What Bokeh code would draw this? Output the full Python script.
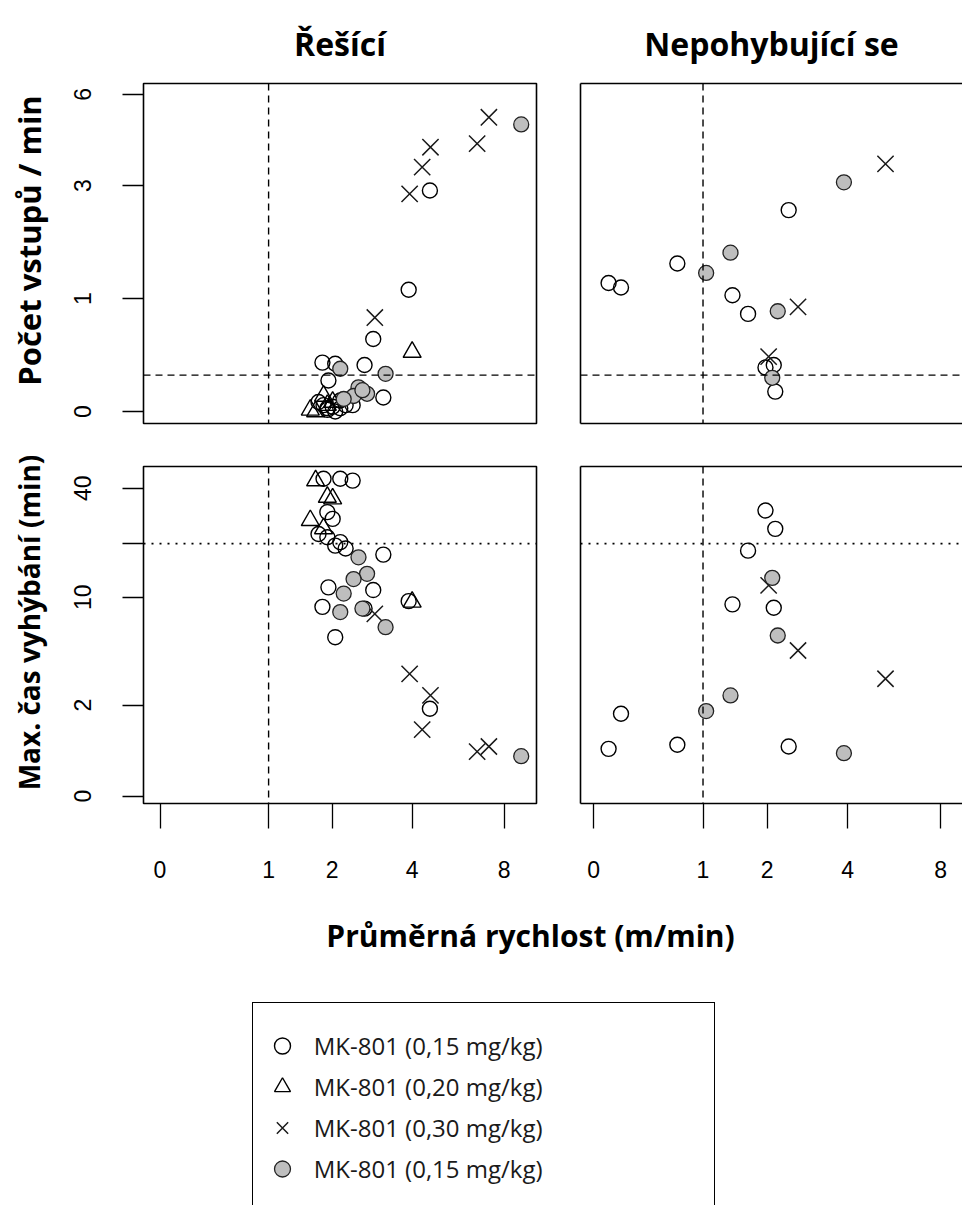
import math
import numpy as np
from bokeh.plotting import figure
from bokeh.layouts import column, row
from bokeh.models import (Span, Legend, LegendItem, FixedTicker, LinearAxis,
                          Range1d, Label, CustomJSTickFormatter)
from bokeh.embed import file_html
from bokeh.resources import INLINE

# ---------------- texts ----------------
col_titles = ["Řešící", "Nepohybující se"]
x_title = "Průměrná rychlost (m/min)"
y_title_top = "Počet vstupů / min"
y_title_bottom = "Max. čas vyhýbání (min)"
legend_labels = ["MK-801 (0,15 mg/kg)", "MK-801 (0,20 mg/kg)",
                 "MK-801 (0,30 mg/kg)", "MK-801 (0,15 mg/kg)"]

# ---------------- ticks / thresholds ----------------
speed_ticks = [0, 1, 2, 4, 8]
entries_ticks = [0, 1, 3, 6]
maxtime_ticks = [0, 2, 10, 20, 40]
maxtime_hidden_labels = [20]
speed_threshold = 1
entries_threshold = 0.25
maxtime_threshold = 20

# ---------------- data: Řešící ----------------
sol_open_speed = [4.60, 3.89, 2.90, 3.16, 2.69, 1.82, 2.06, 1.93, 1.84, 2.16, 2.42, 1.91, 2.01, 1.75, 1.91, 2.16, 2.27, 2.06]
sol_open_entries = [2.88, 1.11, 0.56, 0.09, 0.33, 0.35, 0.34, 0.21, 0.04, 0.02, 0.04, 0.01, 0.03, 0.06, 0.02, 0.07, 0.04, 0.00]
sol_open_maxtime = [1.87, 9.5, 11.0, 17.4, 8.6, 8.8, 5.8, 11.4, 44.9, 44.9, 43.9, 29.7, 27.3, 22.6, 21.7, 20.4, 18.8, 19.5]

sol_tri_speed = [4.00, 1.70, 1.91, 2.01, 1.61, 1.84]
sol_tri_entries = [0.44, 0.00, 0.04, 0.06, 0.01, 0.10]
sol_tri_maxtime = [9.4, 43.9, 35.8, 35.1, 26.8, 24.2]

sol_x_speed = [7.16, 6.57, 4.62, 4.33, 3.92, 2.94]
sol_x_entries = [5.08, 4.17, 4.06, 3.48, 2.80, 0.78]
sol_x_maxtime = [0.82, 0.71, 2.37, 1.23, 3.37, 8.0]

sol_gray_speed = [9.03, 3.22, 2.16, 2.55, 2.75, 2.44, 2.23, 2.64]
sol_gray_entries = [4.82, 0.26, 0.30, 0.16, 0.115, 0.10, 0.08, 0.14]
sol_gray_maxtime = [0.62, 6.67, 8.2, 16.8, 13.6, 12.7, 10.5, 8.6]

# ---------------- data: Nepohybující se ----------------
nm_open_speed = [2.44, 0.70, 0.10, 0.19, 1.41, 1.66, 1.97, 2.13, 2.16]
nm_open_entries = [2.44, 1.48, 1.20, 1.14, 1.04, 0.82, 0.31, 0.33, 0.13]
nm_open_maxtime = [0.82, 0.86, 0.77, 1.70, 9.1, 18.3, 30.3, 8.7, 24.1]

nm_tri_speed = []
nm_tri_entries = []
nm_tri_maxtime = []

nm_x_speed = [5.35, 2.65, 2.03]
nm_x_entries = [3.57, 0.90, 0.40]
nm_x_maxtime = [3.12, 4.79, 11.7]

nm_gray_speed = [3.88, 1.38, 1.04, 2.21, 2.10]
nm_gray_entries = [3.08, 1.65, 1.34, 0.85, 0.23]
nm_gray_maxtime = [0.68, 2.37, 1.79, 5.94, 12.9]

# ---------------- helpers ----------------
TICK_FONT = "Liberation Sans"
BOLD_FONT = "Open Sans"
GRAY = "#bebebe"


def tr(v):
    """log2(v + 1) transform used by the axes."""
    return [float(np.log2(float(x) + 1.0)) for x in v]


def make_fmt(hidden):
    return CustomJSTickFormatter(args=dict(hidden=hidden), code="""
        const v = Math.round(Math.pow(2, tick) - 1);
        return hidden.indexOf(v) >= 0 ? "" : String(v);
    """)


STYLES = {
    "open": dict(marker="circle", size=15, fill_color=None, line_color="black", line_width=1.4),
    "tri": dict(marker="triangle", size=18, fill_color=None, line_color="black", line_width=1.4),
    "x": dict(marker="x", size=23, line_color="#1a1a1a", line_width=1.5),
    "gray": dict(marker="circle", size=15, fill_color=GRAY, line_color="#222222", line_width=1.3),
}


def blank_fig(w, h):
    f = figure(width=w, height=h, x_range=Range1d(0, 1), y_range=Range1d(0, 1),
               output_backend="svg", toolbar_location=None,
               x_axis_location=None, y_axis_location=None)
    f.min_border_left = f.min_border_right = f.min_border_top = f.min_border_bottom = 0
    f.grid.visible = False
    f.outline_line_color = None
    return f


def make_fig(w, h, borders, xr, yr):
    p = figure(width=w, height=h, x_range=Range1d(*xr), y_range=Range1d(*yr),
               output_backend="svg", toolbar_location=None,
               x_axis_location=None, y_axis_location=None)
    p.min_border_left, p.min_border_right, p.min_border_top, p.min_border_bottom = borders
    p.grid.visible = False
    p.outline_line_color = None
    p.background_fill_color = "white"
    p.border_fill_color = "white"
    return p


def border_axis(p, side):
    ax = LinearAxis(ticker=FixedTicker(ticks=[]), axis_line_color="black",
                    axis_line_width=1.6, major_tick_line_color=None,
                    minor_tick_line_color=None, major_tick_out=0, major_tick_in=0,
                    major_label_text_font_size="0px", major_label_standoff=0)
    p.add_layout(ax, side)
    return ax


def style_ticks(ax, ticks, hidden, tick_len):
    ax.ticker = FixedTicker(ticks=tr(ticks))
    ax.formatter = make_fmt(hidden)
    ax.major_tick_out = tick_len
    ax.major_tick_in = 0
    ax.major_tick_line_width = 1.3
    ax.major_tick_line_color = "black"
    ax.minor_tick_line_color = None
    ax.major_label_text_font = TICK_FONT
    ax.major_label_text_font_size = "23px"
    ax.major_label_text_color = "black"


XL = (-0.152, 3.467)
XR = (-0.119, 3.370)
YT = (-0.106, 2.903)
YB = (-0.127, 5.734)

groups = ["open", "tri", "x", "gray"]
data = {
    0: {"open": (sol_open_speed, sol_open_entries, sol_open_maxtime),
        "tri": (sol_tri_speed, sol_tri_entries, sol_tri_maxtime),
        "x": (sol_x_speed, sol_x_entries, sol_x_maxtime),
        "gray": (sol_gray_speed, sol_gray_entries, sol_gray_maxtime)},
    1: {"open": (nm_open_speed, nm_open_entries, nm_open_maxtime),
        "tri": (nm_tri_speed, nm_tri_entries, nm_tri_maxtime),
        "x": (nm_x_speed, nm_x_entries, nm_x_maxtime),
        "gray": (nm_gray_speed, nm_gray_entries, nm_gray_maxtime)},
}

STRIP_W = 60
figs = {}
for col in (0, 1):
    for rown in (0, 1):
        if col == 0:
            w, xr = 560 - STRIP_W, XL
            lb, rb = 143 - STRIP_W, 24
        else:
            w, xr = 402, XR
            lb, rb = 20, 0
        if rown == 0:
            h, yr, tb, bb = 445, YT, 83, 22
        else:
            h, yr, tb, bb = 455, YB, 21, 97
        p = make_fig(w, h, (lb, rb, tb, bb), xr, yr)

        if col == 0:
            p.outline_line_color = "black"
            p.outline_line_width = 1.6
            yax = LinearAxis(axis_line_color=None)
            style_ticks(yax, entries_ticks if rown == 0 else maxtime_ticks,
                        [] if rown == 0 else maxtime_hidden_labels, 21)
            yax.major_label_orientation = "vertical"
            yax.major_label_standoff = 31
            p.add_layout(yax, "left")
            if rown == 1:
                xax = LinearAxis(axis_line_color=None)
                style_ticks(xax, speed_ticks, [], 25)
                xax.major_label_standoff = 32
                p.add_layout(xax, "below")
        else:
            border_axis(p, "left")
            border_axis(p, "above")
            if rown == 1:
                xax = LinearAxis(axis_line_color="black", axis_line_width=1.6)
                style_ticks(xax, speed_ticks, [], 25)
                xax.major_label_standoff = 32
                p.add_layout(xax, "below")
            else:
                border_axis(p, "below")

        if rown == 0:
            p.title.text = col_titles[col]
            p.title.align = "center"
            p.title.text_font = BOLD_FONT
            p.title.text_font_style = "bold"
            p.title.text_font_size = "32px"
            p.title.text_color = "black"
            p.title.standoff = 37

        # reference lines
        p.add_layout(Span(location=tr([speed_threshold])[0], dimension="height",
                          line_color="black", line_width=1.4, line_dash="7 5"))
        if rown == 0:
            p.add_layout(Span(location=tr([entries_threshold])[0], dimension="width",
                              line_color="black", line_width=1.4, line_dash="7 5"))
        else:
            p.add_layout(Span(location=tr([maxtime_threshold])[0], dimension="width",
                              line_color="black", line_width=1.8, line_dash="2 6"))

        for g in groups:
            sp, en, mt = data[col][g]
            if len(sp) == 0:
                continue
            yv = en if rown == 0 else mt
            p.scatter(x=tr(sp), y=tr(yv), **STYLES[g])
        figs[(rown, col)] = p

# ---------------- left strip with both rotated y titles ----------------
strip = blank_fig(STRIP_W, 900)
for text, ycen, size in ((y_title_top, 660, "31px"), (y_title_bottom, 278, "28px")):
    strip.add_layout(Label(x=28, y=ycen, x_units="screen", y_units="screen", text=text,
                           angle=math.pi / 2, text_align="center", text_baseline="middle",
                           text_font=BOLD_FONT, text_font_style="bold",
                           text_font_size=size, text_color="black"))

# ---------------- bottom: x title + legend ----------------
lf = blank_fig(962, 305)
lf.add_layout(Label(x=530, y=270, x_units="screen", y_units="screen", text=x_title,
                    text_align="center", text_baseline="middle", text_font=BOLD_FONT,
                    text_font_style="bold", text_font_size="30px", text_color="black"))

# legend renderers: hidden copies of each group (only their styles show in the legend)
legend_src = [(sol_open_speed, sol_open_entries), (sol_tri_speed, sol_tri_entries),
              (sol_x_speed, sol_x_entries), (sol_gray_speed, sol_gray_entries)]
items = []
for g, lab, (sx, sy) in zip(groups, legend_labels, legend_src):
    r = lf.scatter(x=tr(sx), y=tr(sy), **STYLES[g])
    r.visible = False
    items.append(LegendItem(label=lab, renderers=[r]))
r_blank = lf.scatter(x=tr(sol_open_speed), y=tr(sol_open_entries), marker="circle",
                     fill_color=None, line_color=None)
r_blank.visible = False
items.append(LegendItem(label=" ", renderers=[r_blank]))

legend = Legend(items=items, location=(251.7, -35), orientation="vertical",
                title=" ", title_text_font_size="2px", title_standoff=11,
                glyph_width=40, glyph_height=41, label_height=41, label_width=391,
                label_standoff=12, spacing=0, padding=9, margin=0,
                label_text_font=BOLD_FONT, label_text_font_size="24px",
                label_text_color="#1a1a1a",
                border_line_color="black", border_line_width=1.6, border_line_alpha=1.0,
                background_fill_color="white", background_fill_alpha=1.0)
lf.add_layout(legend)

panels = column(row(figs[(0, 0)], figs[(0, 1)]),
                row(figs[(1, 0)], figs[(1, 1)]))
layout = column(row(strip, panels), lf)

open("out.html", "w").write(file_html(layout, INLINE))
